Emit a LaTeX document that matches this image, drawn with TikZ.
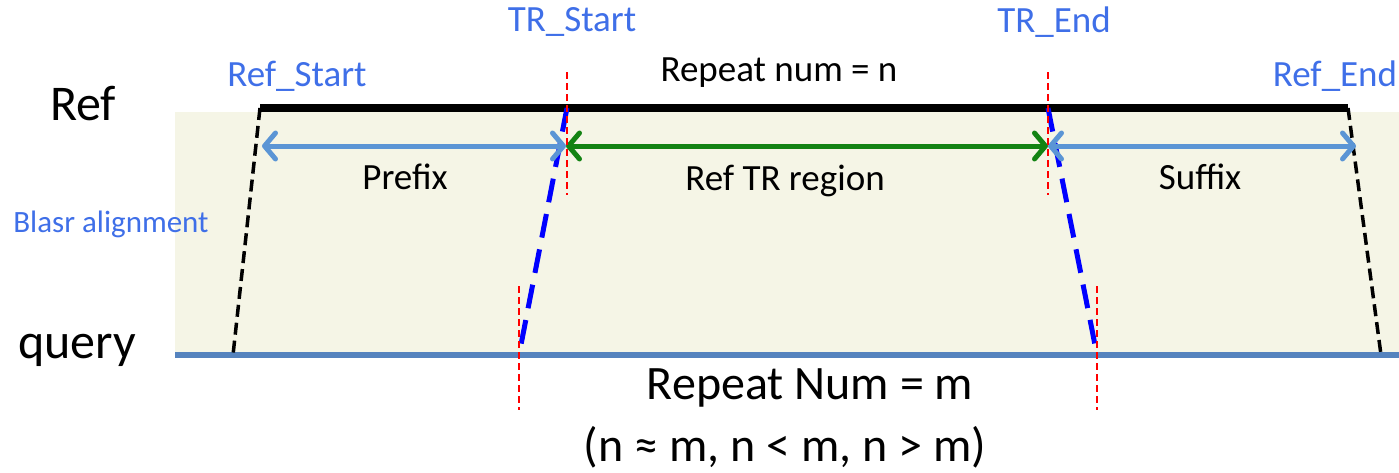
\documentclass[tikz,border=0pt]{standalone}
\usepackage{fontspec}
\setmainfont{Carlito}
\usetikzlibrary{arrows.meta}
\definecolor{beige}{HTML}{F5F5E6}
\definecolor{qblue}{HTML}{5583BE}
\definecolor{lblue}{HTML}{5B95D5}
\definecolor{tblue}{HTML}{3F6FE8}
\definecolor{tgreen}{HTML}{138313}
\tikzset{
  lbl/.style={inner sep=0pt, anchor=center},
  bluelbl/.style={lbl, text=tblue},
  reddash/.style={red, line width=1.8pt, dash pattern=on 7pt off 4pt},
  blackdash/.style={black, line width=3.5pt, dash pattern=on 12pt off 6pt},
  bluedash/.style={blue, line width=5pt, dash pattern=on 24pt off 12pt},
  dbl/.style={line width=5pt, {Straight Barb[length=11pt,width=26pt,round]}-{Straight Barb[length=11pt,width=26pt,round]}},
  big/.style={font=\fontsize{50}{56}\selectfont},
  mid/.style={font=\fontsize{37}{42}\selectfont},
  sml/.style={font=\fontsize{31}{36}\selectfont},
  bot/.style={font=\fontsize{48}{54}\selectfont},
}
\begin{document}
\begin{tikzpicture}[x=1pt,y=-1pt]
\useasboundingbox (0,0) rectangle (1399,472);
\fill[beige] (175,112) rectangle (1399,355);
% coordinates
\coordinate (rs) at (260,108);
\coordinate (re) at (1348,108);
\coordinate (qs) at (233,355);
\coordinate (qe) at (1381,355);
\coordinate (ts) at (567,108);
\coordinate (te) at (1048,108);
\coordinate (qts) at (519,355);
\coordinate (qte) at (1097,355);
\coordinate (ql) at (175,355);
\coordinate (qr) at (1399,355);
% lines
\draw[qblue, line width=6pt] (ql) -- (qr);
\draw[black, line width=8pt] (rs) -- (re);
\draw[blackdash] (rs) -- (qs);
\draw[blackdash] (re) -- (qe);
\draw[bluedash] (ts) -- (qts);
\draw[bluedash] (te) -- (qte);
% arrows
\coordinate (a1) at (262,146);
\coordinate (a2) at (566,146);
\coordinate (a3) at (1048,146);
\coordinate (a4) at (1356,146);
\draw[dbl, lblue] (a1) -- (a2);
\draw[dbl, tgreen] (a2) -- (a3);
\draw[dbl, lblue] (a3) -- (a4);
% red markers
\coordinate (r1a) at (567,72); \coordinate (r1b) at (567,195);
\coordinate (r2a) at (1048,72); \coordinate (r2b) at (1048,195);
\coordinate (r3a) at (519,286); \coordinate (r3b) at (519,410);
\coordinate (r4a) at (1097,286); \coordinate (r4b) at (1097,410);
\draw[reddash] (r1a) -- (r1b);
\draw[reddash] (r2a) -- (r2b);
\draw[reddash] (r3a) -- (r3b);
\draw[reddash] (r4a) -- (r4b);
% labels
\node[lbl, big] (ref) at (83,104) {Ref};
\node[lbl, big] (query) at (77,350) {query};
\node[bluelbl, sml] (blasr) at (111,224) {Blasr alignment};
\node[bluelbl, mid] (rslbl) at (297,76) {Ref\_Start};
\node[bluelbl, mid] (relbl) at (1335,76) {Ref\_End};
\node[bluelbl, mid] (tslbl) at (572,22) {TR\_Start};
\node[bluelbl, mid] (telbl) at (1054,22) {TR\_End};
\node[lbl, mid] (rpn) at (779,73) {Repeat num = n};
\node[lbl, mid] (prefix) at (405,177) {Prefix};
\node[lbl, mid] (trreg) at (785,181) {Ref TR region};
\node[lbl, mid] (suffix) at (1200,177) {Suffix};
\node[lbl, bot] (rpm) at (810,388) {Repeat Num = m};
\node[lbl, bot] (cond) at (785,447) {(n ≈ m, n < m, n > m)};
\end{tikzpicture}
\end{document}
